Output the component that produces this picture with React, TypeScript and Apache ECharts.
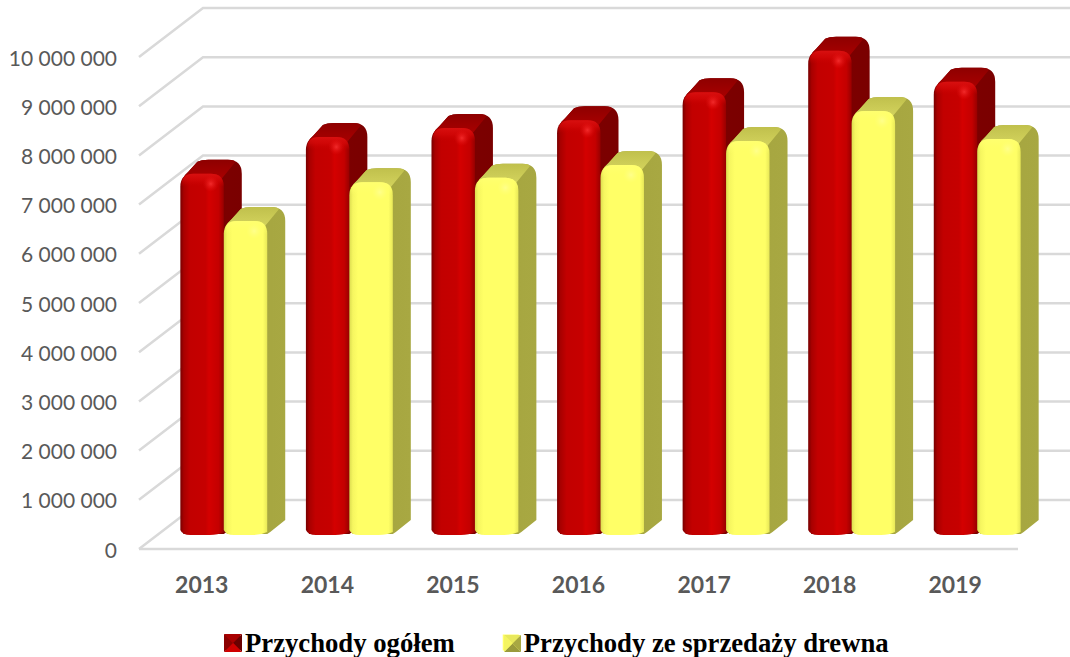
import React, { useEffect, useRef } from "react";
import * as echarts from "echarts";

const years = ["2013", "2014", "2015", "2016", "2017", "2018", "2019"];
const totalRevenue = [7320000, 8070000, 8250000, 8410000, 8980000, 9820000, 9190000];
const timberRevenue = [6360000, 7150000, 7240000, 7500000, 7990000, 8600000, 8030000];
const gridValues = [0, 1000000, 2000000, 3000000, 4000000, 5000000, 6000000, 7000000, 8000000, 9000000, 10000000];

const NAME_TOTAL = "Przychody ogółem";
const NAME_TIMBER = "Przychody ze sprzedaży drewna";

const DEPTH_X = 64;
const DEPTH_Y = 49;
const BAR_DX = 22;
const BAR_DY = 15;
const SIDE_X = 18;
const SIDE_Y = 14;

const H = (stops: [number, string][]) =>
  new echarts.graphic.LinearGradient(0, 0, 1, 0, stops.map(([offset, color]) => ({ offset, color })));
const V = (stops: [number, string][]) =>
  new echarts.graphic.LinearGradient(0, 0, 0, 1, stops.map(([offset, color]) => ({ offset, color })));

const palettes = [
  {
    side: H([[0, "#6e0000"], [0.5, "#7d0000"], [1, "#7a0000"]]),
    top: V([[0, "#8e0000"], [1, "#aa0000"]]),
    front: H([[0, "#780000"], [0.08, "#a80000"], [0.22, "#c20000"], [0.58, "#c60000"], [0.66, "#d40000"], [0.88, "#c40000"], [1, "#980000"]]),
    topBand: V([[0, "#d81010"], [0.5, "rgba(214,10,10,0.6)"], [1, "rgba(200,0,0,0)"]]),
    glow: "rgba(255,60,60,0.7)",
    glowEnd: "rgba(230,20,20,0)",
  },
  {
    side: H([[0, "#a4a43e"], [1, "#a8a842"]]),
    top: V([[0, "#c0c04c"], [1, "#d4d45e"]]),
    front: H([[0, "#dcdc50"], [0.08, "#f6f660"], [0.2, "#ffff66"], [0.9, "#ffff66"], [1, "#e8e858"]]),
    topBand: V([[0, "#ffff70"], [1, "rgba(255,255,102,0)"]]),
    glow: "rgba(255,255,170,0.55)",
    glowEnd: "rgba(255,255,130,0)",
  },
];

function barItem(seriesIndex: number) {
  return (params: any, api: any) => {
    const cat = api.value(0);
    const val = api.value(1);
    const band = api.size([1, 0])[0];
    const w = band * 0.346;
    const top = api.coord([cat, val]);
    const base = api.coord([cat, 0]);
    const x = top[0] + BAR_DX - w + seriesIndex * w;
    const yTop = top[1] - BAR_DY;
    const yBase = base[1] - BAR_DY;
    const r = 13;
    const br = 4;
    const rb = 14;
    const p = palettes[seriesIndex];
    const right = x + w;
    const silhouette =
      `M${x + 2} ${yTop + 6} Q${x + 4} ${yTop + 1} ${x + 8} ${yTop - 2} L${x + SIDE_X - 1} ${yTop - SIDE_Y + 2} Q${x + SIDE_X + 3} ${yTop - SIDE_Y} ${x + SIDE_X + 10} ${yTop - SIDE_Y} ` +
      `L${right + SIDE_X - rb} ${yTop - SIDE_Y} Q${right + SIDE_X} ${yTop - SIDE_Y} ${right + SIDE_X} ${yTop - SIDE_Y + rb} ` +
      `L${right + SIDE_X} ${yBase - SIDE_Y} L${right + 3} ${yBase - 2} L${right} ${yBase} L${x + 3} ${yBase} Z`;
    const topFace =
      `M${x + 2} ${yTop + 6} Q${x + 4} ${yTop + 1} ${x + 8} ${yTop - 2} L${x + SIDE_X - 1} ${yTop - SIDE_Y + 2} Q${x + SIDE_X + 3} ${yTop - SIDE_Y} ${x + SIDE_X + 10} ${yTop - SIDE_Y} ` +
      `L${right + SIDE_X - rb} ${yTop - SIDE_Y} Q${right + SIDE_X - 5} ${yTop - SIDE_Y} ${right + SIDE_X - 7} ${yTop - SIDE_Y + 3} ` +
      `L${right - 3} ${yTop + 6} Z`;
    const front =
      `M${x} ${yBase - br} L${x} ${yTop + r} Q${x} ${yTop} ${x + r} ${yTop} L${right - r} ${yTop} Q${right} ${yTop} ${right} ${yTop + r} ` +
      `L${right} ${yBase - 2} Q${right - 6} ${yBase + 1} ${right - 14} ${yBase + 1} L${x + 10} ${yBase + 1} Q${x + 2} ${yBase + 1} ${x} ${yBase - br} Z`;
    const band2 =
      `M${x + 1} ${yTop + r} Q${x + 1} ${yTop} ${x + r} ${yTop} L${right - r} ${yTop} Q${right} ${yTop} ${right} ${yTop + r} Z`;
    const gx = right - 13;
    const gy = yTop + 10;
    return {
      type: "group",
      children: [
        { type: "path", shape: { pathData: silhouette }, style: { fill: p.side } },
        { type: "path", shape: { pathData: topFace }, style: { fill: p.top } },
        { type: "path", shape: { pathData: front }, style: { fill: p.front } },
        { type: "path", shape: { pathData: band2 }, style: { fill: p.topBand } },
        {
          type: "circle",
          shape: { cx: gx, cy: gy, r: 8 },
          style: {
            fill: new echarts.graphic.RadialGradient(0.5, 0.5, 0.5, [
              { offset: 0, color: p.glow },
              { offset: 1, color: p.glowEnd },
            ]),
          },
        },
      ],
    };
  };
}

function gridItem(params: any, api: any) {
  const y = api.coord([0, api.value(1)])[1];
  const cs = params.coordSys;
  const x0 = cs.x;
  const x1 = cs.x + cs.width;
  const line = { stroke: "#d9d9d9", lineWidth: 2.5, fill: "none" };
  const children: any[] = [
    {
      type: "polyline",
      shape: { points: [[x0, y], [x0 + DEPTH_X, y - DEPTH_Y], [x1 + DEPTH_X, y - DEPTH_Y]] },
      style: line,
    },
  ];
  if (api.value(1) === 0) {
    children.push({ type: "line", shape: { x1: x0, y1: y, x2: x1, y2: y }, style: line });
  }
  return { type: "group", children };
}

function bevel(x: number, y: number, s: number, c: string[]) {
  const m = [x + s / 2, y + s / 2];
  const quad = [
    [[x, y], [x + s, y], m],
    [[x + s, y], [x + s, y + s], m],
    [[x + s, y + s], [x, y + s], m],
    [[x, y + s], [x, y], m],
  ];
  return quad.map((points, i) => ({
    type: "polygon",
    z: 100,
    shape: { points },
    style: { fill: c[i] },
  }));
}

export default function App() {
  const ref = useRef<HTMLDivElement>(null);
  useEffect(() => {
    document.body.style.margin = "0";
    const chart = echarts.init(ref.current!, null, { renderer: "svg" });
    chart.setOption({
      animation: false,
      backgroundColor: "#ffffff",
      grid: { left: 139, right: 52, top: 57, bottom: 108, containLabel: false },
      xAxis: {
        type: "category",
        data: years,
        axisLine: { show: false },
        axisTick: { show: false },
        axisLabel: {
          margin: 23,
          color: "#595959",
          fontFamily: "Lato",
          fontWeight: "bold",
          fontSize: 23,
        },
      },
      yAxis: {
        type: "value",
        min: 0,
        max: 10000000,
        interval: 1000000,
        splitLine: { show: false },
        axisLine: { show: false },
        axisTick: { show: false },
        axisLabel: {
          margin: 22,
          color: "#595959",
          fontFamily: "Lato",
          fontSize: 21,
          formatter: (v: number) => String(v).replace(/\B(?=(\d{3})+(?!\d))/g, " "),
        },
      },
      legend: {
        left: 219,
        top: 624,
        itemWidth: 16,
        itemHeight: 16,
        itemGap: 48,
        icon: "rect",
        data: [NAME_TOTAL, NAME_TIMBER],
        textStyle: {
          color: "#000000",
          fontFamily: "Liberation Serif",
          fontWeight: "bold",
          fontSize: 26.7,
        },
      },
      graphic: [
        ...bevel(224, 634, 18, ["#a80000", "#6a0000", "#d00000", "#8c0000"]),
        ...bevel(504, 635, 17, ["#e8e85c", "#a8a842", "#9a9a3c", "#f4f460"]),
      ],
      series: [
        {
          type: "custom",
          name: "grid",
          silent: true,
          z: 1,
          clip: false,
          renderItem: gridItem,
          data: gridValues.map((v) => [0, v]),
          encode: { x: 0, y: 1 },
        },
        {
          type: "custom",
          name: NAME_TOTAL,
          z: 2,
          clip: false,
          itemStyle: { color: "#c00000" },
          renderItem: barItem(0),
          data: totalRevenue.map((v, i) => [i, v]),
          encode: { x: 0, y: 1 },
        },
        {
          type: "custom",
          name: NAME_TIMBER,
          z: 3,
          clip: false,
          itemStyle: { color: "#ffff66" },
          renderItem: barItem(1),
          data: timberRevenue.map((v, i) => [i, v]),
          encode: { x: 0, y: 1 },
        },
      ],
    });
    return () => chart.dispose();
  }, []);
  return <div ref={ref} style={{ position: "absolute", left: 0, top: 0, width: 1070, height: 657 }} />;
}
